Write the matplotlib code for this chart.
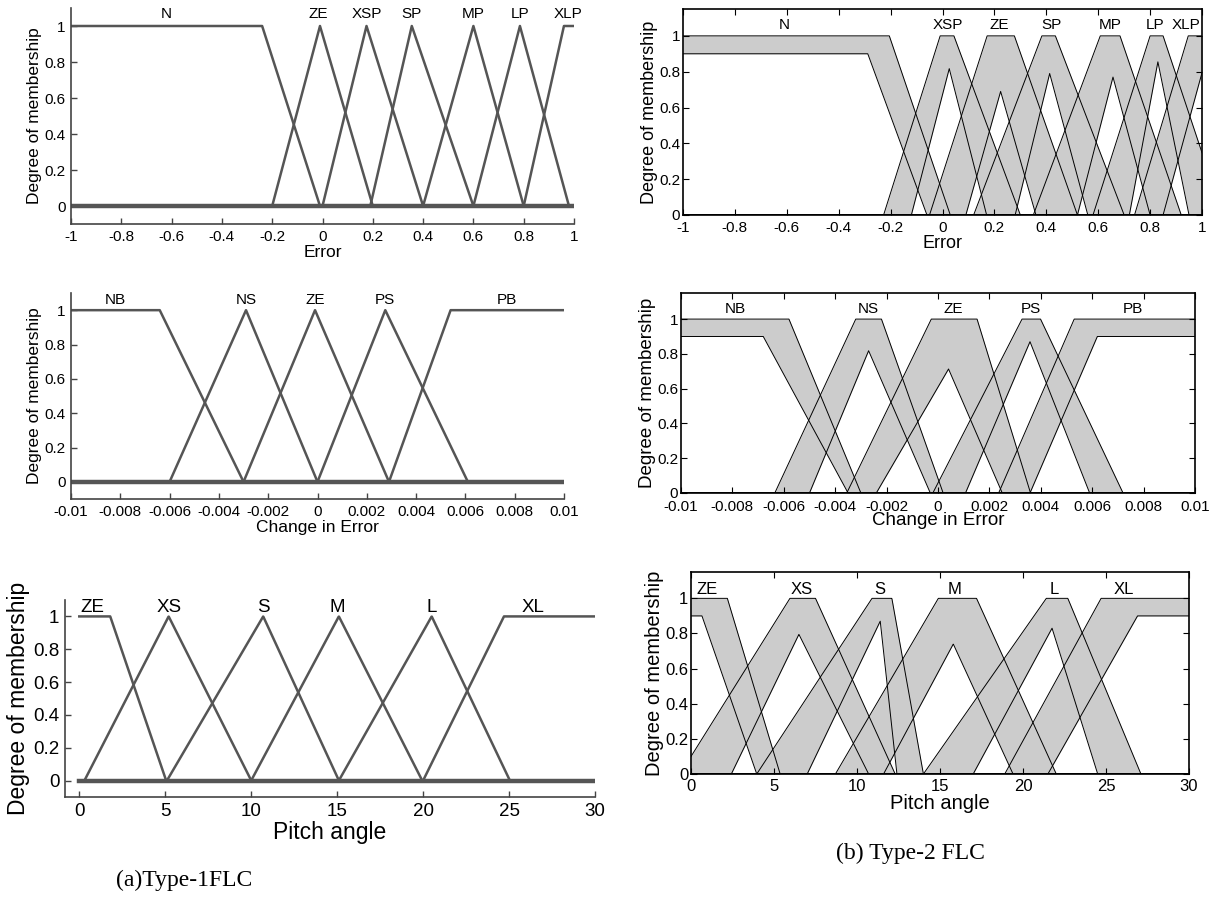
import numpy as np
import matplotlib
matplotlib.use('Agg')
from matplotlib import pyplot as plt

plt.rcParams['font.family'] = ['Liberation Sans', 'DejaVu Sans']

# ---- Type-1 FLC membership functions: trapezoids [a, b, c, d] ----
err1_names = ['N', 'ZE', 'XSP', 'SP', 'MP', 'LP', 'XLP']
err1_params = [[-1, -1, -0.24, -0.01], [-0.2, -0.01, -0.01, 0.2],
               [0, 0.175, 0.175, 0.4], [0.19, 0.355, 0.355, 0.6],
               [0.4, 0.6, 0.6, 0.8], [0.6, 0.785, 0.785, 0.98],
               [0.8, 0.96, 1, 1]]
err1_labx = [-0.62, -0.015, 0.175, 0.355, 0.6, 0.785, 0.975]

dce1_names = ['NB', 'NS', 'ZE', 'PS', 'PB']
dce1_params = [[-0.01, -0.01, -0.0064, -0.003], [-0.006, -0.0029, -0.0029, 0],
               [-0.003, -0.0001, -0.0001, 0.0029], [0, 0.00275, 0.00275, 0.0061],
               [0.0029, 0.0054, 0.01, 0.01]]
dce1_labx = [-0.0082, -0.0029, -0.0001, 0.00275, 0.0077]

pitch1_names = ['ZE', 'XS', 'S', 'M', 'L', 'XL']
pitch1_params = [[0, 0, 1.8, 5.05], [0.3, 5.2, 5.2, 10], [5.1, 10.7, 10.7, 15.1],
                 [10, 15.1, 15.1, 19.95], [15.1, 20.5, 20.5, 25.05],
                 [20, 24.7, 30, 30]]
pitch1_labx = [0.75, 5.2, 10.7, 15.0, 20.5, 26.4]

# ---- Type-2 FLC: upper MF, lower MF (trapezoids) and lower MF height ----
err2_names = ['N', 'XSP', 'ZE', 'SP', 'MP', 'LP', 'XLP']
err2_upper = [[-1, -1, -0.205, 0.03], [-0.227, -0.009, 0.044, 0.30],
              [-0.05, 0.172, 0.277, 0.52], [0.12, 0.383, 0.435, 0.70],
              [0.35, 0.608, 0.684, 0.92], [0.58, 0.80, 0.85, 1.08],
              [0.74, 0.947, 1.0, 1.0]]
err2_lower = [[-1, -1, -0.288, -0.06], [-0.12, 0.026, 0.026, 0.17],
              [0.09, 0.224, 0.224, 0.36], [0.28, 0.413, 0.413, 0.56],
              [0.52, 0.657, 0.657, 0.80], [0.72, 0.83, 0.83, 0.95],
              [0.85, 1.02, 1.1, 1.1]]
err2_lh = [0.9, 0.817, 0.69, 0.79, 0.77, 0.855, 0.9]
err2_labx = [-0.61, 0.02, 0.22, 0.42, 0.646, 0.82, 0.94]

dce2_names = ['NB', 'NS', 'ZE', 'PS', 'PB']
dce2_upper = [[-0.01, -0.01, -0.0058, -0.0030], [-0.00635, -0.0032, -0.0022, 0.0002],
              [-0.00355, -0.00026, 0.00152, 0.0036], [-0.0002, 0.00327, 0.00399, 0.0072],
              [0.00236, 0.0053, 0.01, 0.01]]
dce2_lower = [[-0.01, -0.01, -0.0068, -0.0035], [-0.005, -0.0027, -0.0027, -0.0003],
              [-0.0024, 0.00041, 0.00041, 0.0025], [0.00107, 0.00358, 0.00358, 0.0059],
              [0.00358, 0.0062, 0.01, 0.01]]
dce2_lh = [0.9, 0.818, 0.713, 0.87, 0.9]
dce2_labx = [-0.0079, -0.0027, 0.0006, 0.0036, 0.0076]

pitch2_names = ['ZE', 'XS', 'S', 'M', 'L', 'XL']
pitch2_upper = [[0, 0, 2.19, 5.37], [-0.66, 5.96, 7.5, 12.3], [3.96, 10.9, 12.1, 14.0],
                [8.7, 14.9, 17.2, 22.0], [14.0, 21.4, 22.7, 27.1], [18.9, 24.7, 30, 30]]
pitch2_lower = [[0, 0, 0.66, 3.96], [2.43, 6.5, 6.5, 10.7], [7.0, 11.4, 11.4, 12.4],
                [11.6, 15.8, 15.8, 19.4], [17.0, 21.75, 21.75, 24.5], [21.5, 26.9, 30, 30]]
pitch2_lh = [0.9, 0.795, 0.87, 0.74, 0.83, 0.9]
pitch2_labx = [1.0, 6.67, 11.4, 15.9, 21.9, 26.1]

LINE = '#555555'
FILL = '#cccccc'


def trap(x, a, b, c, d):
    """trapezoid membership, handles shoulders (a==b or c==d)"""
    y = np.ones_like(x)
    if b > a:
        y = np.minimum(y, (x - a) / (b - a))
    else:
        y = np.where(x < a, 0.0, y)
    if d > c:
        y = np.minimum(y, (d - x) / (d - c))
    else:
        y = np.where(x > d, 0.0, y)
    return np.clip(y, 0, 1)


def fmt(v):
    return '%g' % round(v, 6)


def type1(ax, params, names, labx, xr, xlim, xticks, xlabel, fs_t, fs_l, fs_n, laby):
    xg = np.linspace(xr[0], xr[1], 2001)
    for p in params:
        ax.plot(xg, trap(xg, *p), color=LINE, lw=1.8, solid_joinstyle='round')
    ax.plot(xr, [0, 0], color=LINE, lw=3.2)
    for n, lx in zip(names, labx):
        ax.text(lx, laby, n, ha='center', va='bottom', fontsize=fs_n)
    ax.set_xlim(*xlim)
    ax.set_ylim(-0.1, 1.1)
    ax.spines['top'].set_visible(False)
    ax.spines['right'].set_visible(False)
    for s in ('left', 'bottom'):
        ax.spines[s].set_color('#444444')
        ax.spines[s].set_linewidth(1.2)
    yt = [0, 0.2, 0.4, 0.6, 0.8, 1]
    ax.set_yticks(yt, [fmt(v) for v in yt])
    ax.set_xticks(xticks, [fmt(v) for v in xticks])
    ax.tick_params(direction='in', length=4, width=1, labelsize=fs_t, pad=4,
                   color='#444444')
    ax.set_xlabel(xlabel, fontsize=fs_l, labelpad=1)
    ax.set_ylabel('Degree of membership', fontsize=fs_l, labelpad=2)


def type2(ax, upper, lower, lh, names, labx, xlim, xticks, xlabel, fs_t, fs_l, fs_n, laby,
          xpad, lpad):
    xg = np.linspace(xlim[0], xlim[1], 2001)
    curves = []
    for up, lo, h in zip(upper, lower, lh):
        u = trap(xg, *up)
        l = h * trap(xg, *lo)
        ax.fill_between(xg, l, u, color=FILL, lw=0)
        curves += [u, l]
    for c in curves:
        ax.plot(xg, c, color='k', lw=0.7)
    for n, lx in zip(names, labx):
        ax.text(lx, laby, n, ha='center', va='bottom', fontsize=fs_n)
    ax.set_xlim(*xlim)
    ax.set_ylim(0, 1.15)
    for s in ax.spines.values():
        s.set_linewidth(1.2)
    yt = [0, 0.2, 0.4, 0.6, 0.8, 1]
    ax.set_yticks(yt, [fmt(v) for v in yt])
    ax.set_xticks(xticks, [fmt(v) for v in xticks])
    ax.tick_params(direction='in', length=4, width=0.8, labelsize=fs_t, pad=2,
                   top=True, right=True)
    ax.tick_params(axis='x', pad=xpad)
    ax.set_xlabel(xlabel, fontsize=fs_l, labelpad=lpad)
    ax.set_ylabel('Degree of membership', fontsize=fs_l, labelpad=1)


fig = plt.figure(figsize=(12.12, 9.15), dpi=100)

W, H = 1212.0, 915.0


def box(x0, x1, y0, y1):
    return [x0 / W, 1 - y1 / H, (x1 - x0) / W, (y1 - y0) / H]


ax_tl = fig.add_axes(box(71, 574, 8, 224))
ax_ml = fig.add_axes(box(71, 564, 293, 499))
ax_bl = fig.add_axes(box(65, 595, 600, 797))
ax_tr = fig.add_axes(box(683, 1202, 9, 215))
ax_mr = fig.add_axes(box(681, 1195, 293, 493))
ax_br = fig.add_axes(box(691, 1189, 572, 774))

ex = np.round(np.linspace(-1, 1, 11), 3)
dx = np.round(np.linspace(-0.01, 0.01, 11), 4)
px = [0, 5, 10, 15, 20, 25, 30]

type1(ax_tl, err1_params, err1_names, err1_labx, [-1, 1], (-1, 1), ex, 'Error',
      11, 12.5, 11, 1.03)
type1(ax_ml, dce1_params, dce1_names, dce1_labx, [-0.01, 0.01], (-0.01, 0.01), dx,
      'Change in Error', 11, 12.5, 11, 1.02)
type1(ax_bl, pitch1_params, pitch1_names, pitch1_labx, [0, 30], (-0.83, 30), px,
      'Pitch angle', 13.5, 16.5, 13.5, 1.0)

type2(ax_tr, err2_upper, err2_lower, err2_lh, err2_names, err2_labx, (-1, 1), ex,
      'Error', 11, 13, 11, 1.02, 4.5, 0)
type2(ax_mr, dce2_upper, dce2_lower, dce2_lh, dce2_names, dce2_labx, (-0.01, 0.01), dx,
      'Change in Error', 11, 13.5, 11, 1.02, 5, -1.5)
type2(ax_br, pitch2_upper, pitch2_lower, pitch2_lh, pitch2_names, pitch2_labx, (0, 30), px,
      'Pitch angle', 12, 14.5, 12, 1.01, 3.5, 0)

fig.text(184 / W, 1 - 880 / H, '(a)Type-1FLC', ha='center', va='center',
         family='Liberation Serif', fontsize=17)
fig.text(910 / W, 1 - 853 / H, '(b) Type-2 FLC', ha='center', va='center',
         family='Liberation Serif', fontsize=17)

fig.savefig('out.png', dpi=100)
